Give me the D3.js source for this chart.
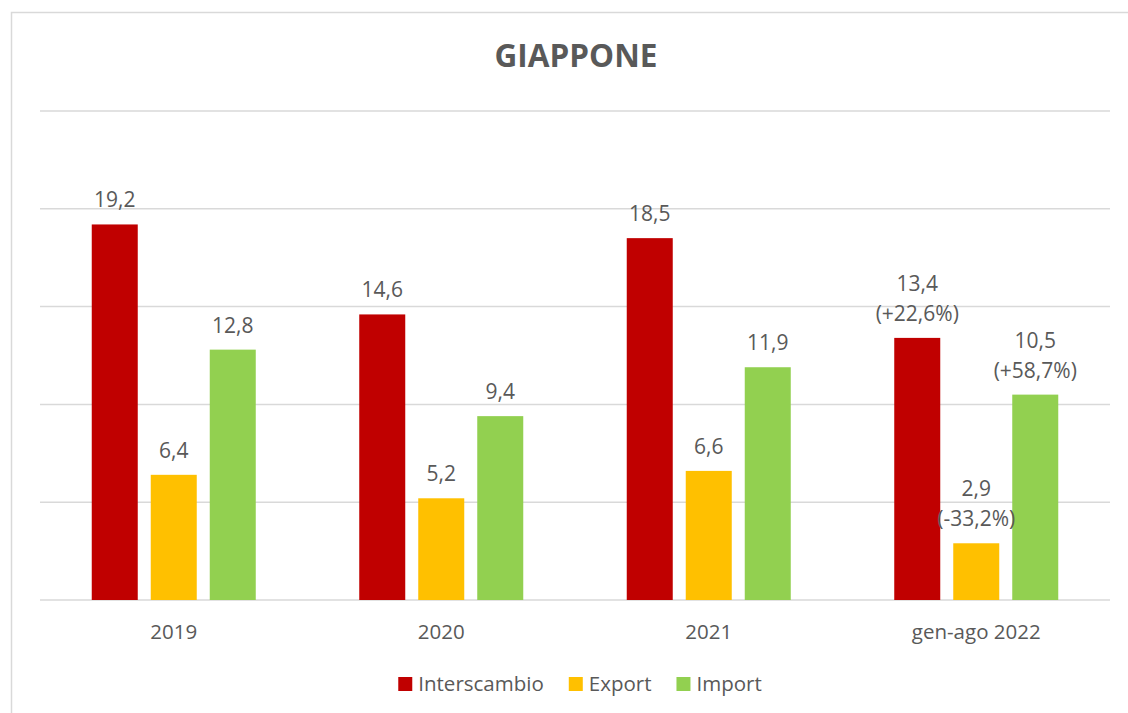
<!DOCTYPE html>
<html>
<head>
<meta charset="utf-8">
<script src="https://cdn.jsdelivr.net/npm/d3@7"></script>
<style>
  html, body { margin: 0; padding: 0; background: #fff; }
  svg { display: block; }
  text { font-family: "Open Sans", "Noto Sans", sans-serif; fill: #595959; }
</style>
</head>
<body>
<svg id="chart" width="1128" height="713"></svg>
<script>
// ---- data ----
const categories = ["2019", "2020", "2021", "gen-ago 2022"];
const seriesNames = ["Interscambio", "Export", "Import"];
const interscambio = [19.2, 14.6, 18.5, 13.4];
const exportVals = [6.4, 5.2, 6.6, 2.9];
const importVals = [12.8, 9.4, 11.9, 10.5];
const interscambioNotes = ["", "", "", "(+22,6%)"];
const exportNotes = ["", "", "", "(-33,2%)"];
const importNotes = ["", "", "", "(+58,7%)"];
const yTicks = [0, 5, 10, 15, 20, 25];
const colors = ["#C00000", "#FFC000", "#92D050"];
const title = "GIAPPONE";

const seriesValues = [interscambio, exportVals, importVals];
const seriesNotes = [interscambioNotes, exportNotes, importNotes];

const svg = d3.select("#chart");

// outer border (chart area frame)
svg.append("rect")
  .attr("x", 11.5).attr("y", 12.5)
  .attr("width", 1140).attr("height", 720)
  .attr("fill", "#fff").attr("stroke", "#d9d9d9").attr("stroke-width", 1.5);

const plotLeft = 40, plotRight = 1110;
const x0 = d3.scaleBand().domain(categories).range([plotLeft, plotRight]).paddingInner(0).paddingOuter(0);
const x1 = d3.scaleBand().domain(seriesNames).range([0, x0.bandwidth()])
  .paddingInner(13 / 59).paddingOuter(0.877);
const y = d3.scaleLinear().domain([0, 25]).range([600, 111]);

// gridlines
svg.append("g")
  .selectAll("line").data(yTicks).join("line")
  .attr("x1", plotLeft).attr("x2", plotRight)
  .attr("y1", d => y(d)).attr("y2", d => y(d))
  .attr("stroke", "#d9d9d9").attr("stroke-width", 1.5);

// title
svg.append("text")
  .attr("x", 576).attr("y", 67)
  .attr("text-anchor", "middle")
  .style("font-size", "31.5px").style("font-weight", "700")
  .text(title);

// bars
const data = [];
categories.forEach((c, i) => {
  seriesNames.forEach((s, j) => {
    data.push({ cat: c, ser: s, v: seriesValues[j][i], note: seriesNotes[j][i], color: colors[j] });
  });
});

svg.append("g").selectAll("rect").data(data).join("rect")
  .attr("x", d => x0(d.cat) + x1(d.ser))
  .attr("y", d => y(d.v))
  .attr("width", x1.bandwidth())
  .attr("height", d => y(0) - y(d.v))
  .attr("fill", d => d.color);

// value labels
const fmt = v => d3.format(".1f")(v).replace(".", ",");
const lab = svg.append("g").selectAll("text").data(data).join("text")
  .attr("text-anchor", "middle")
  .style("font-size", "21px")
  .attr("x", d => x0(d.cat) + x1(d.ser) + x1.bandwidth() / 2)
  .attr("y", d => y(d.v) - 17 - (d.note ? 30 : 0));
lab.append("tspan").text(d => fmt(d.v));
lab.filter(d => d.note).append("tspan")
  .attr("x", d => x0(d.cat) + x1(d.ser) + x1.bandwidth() / 2)
  .attr("dy", 30)
  .text(d => d.note);

// category axis labels
const xAxis = d3.axisBottom(x0).tickSize(0).tickPadding(0);
const gx = svg.append("g").attr("transform", "translate(0,600)").call(xAxis);
gx.select(".domain").remove();
gx.selectAll("text")
  .attr("y", 39).attr("dy", null)
  .style("font-size", "20.5px")
  .style("font-family", "'Open Sans', 'Noto Sans', sans-serif")
  .attr("fill", "#595959");

// legend
const legend = svg.append("g");
let cx = 0;
seriesNames.forEach((s, j) => {
  const g = legend.append("g");
  g.append("rect").attr("x", 0).attr("y", -14).attr("width", 14).attr("height", 14).attr("fill", colors[j]);
  const t = g.append("text").attr("x", 20).attr("y", 0).style("font-size", "20.5px").text(s);
  const w = 20 + t.node().getComputedTextLength();
  g.attr("transform", `translate(${cx},691)`);
  cx += w + 25;
});
const totalW = cx - 25;
legend.attr("transform", `translate(${580 - totalW / 2},0)`);
</script>
</body>
</html>
